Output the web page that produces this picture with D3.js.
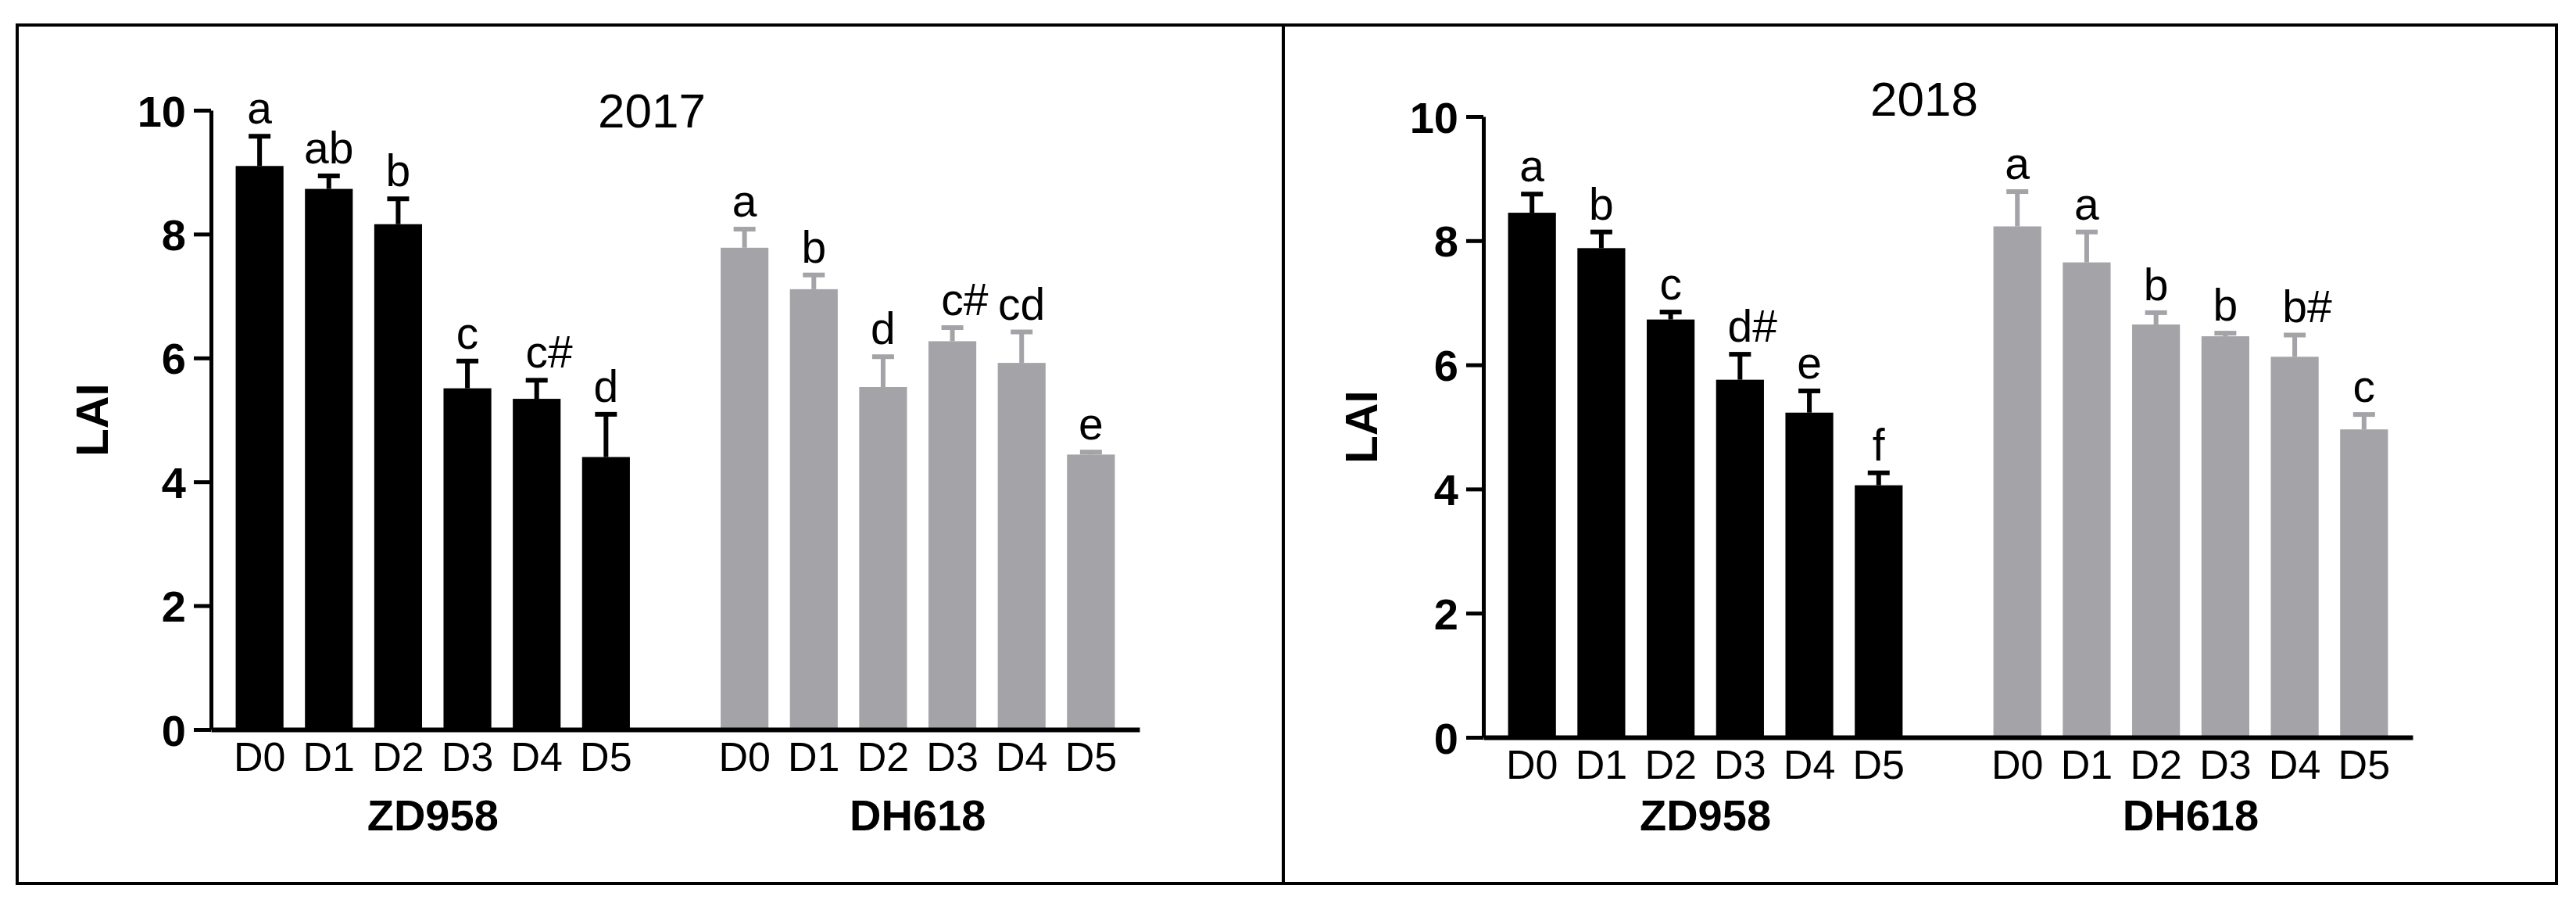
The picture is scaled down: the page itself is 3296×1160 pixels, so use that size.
<!DOCTYPE html>
<html>
<head>
<meta charset="utf-8">
<style>
body { margin: 0; background: white; }
svg { display: block; font-family: "Liberation Sans", Arial, sans-serif; }
</style>
</head>
<body>
<svg width="3296" height="1160"></svg>
<script src="https://cdn.jsdelivr.net/npm/d3@7"></script>
<script>

// categories
var doses = ["D0", "D1", "D2", "D3", "D4", "D5"];
var cultivars = ["ZD958", "DH618"];
var yTicks = [0, 2, 4, 6, 8, 10];

// 2017 values (LAI mean, error, letters)
var lai2017ZD = [9.10, 8.73, 8.16, 5.51, 5.34, 4.40];
var err2017ZD = [0.48, 0.21, 0.41, 0.44, 0.30, 0.69];
var sig2017ZD = ["a", "ab", "b", "c", "c#", "d"];
var lai2017DH = [7.78, 7.11, 5.53, 6.27, 5.92, 4.44];
var err2017DH = [0.30, 0.23, 0.49, 0.22, 0.50, 0.04];
var sig2017DH = ["a", "b", "d", "c#", "cd", "e"];

// 2018 values
var lai2018ZD = [8.45, 7.88, 6.73, 5.76, 5.23, 4.06];
var err2018ZD = [0.30, 0.26, 0.12, 0.41, 0.35, 0.20];
var sig2018ZD = ["a", "b", "c", "d#", "e", "f"];
var lai2018DH = [8.23, 7.65, 6.65, 6.46, 6.13, 4.96];
var err2018DH = [0.56, 0.49, 0.19, 0.05, 0.35, 0.24];
var sig2018DH = ["a", "a", "b", "b", "b#", "c"];

var colors = { ZD958: "#000000", DH618: "#a3a3a8" };

// panel layout
var panels = [
  { year: "2017", x0: 270, x1: 1458, yBase: 933, yTop: 141, titleX: 834, titleY: 163, laiX: 118,
    series: { ZD958: [lai2017ZD, err2017ZD, sig2017ZD], DH618: [lai2017DH, err2017DH, sig2017DH] } },
  { year: "2018", x0: 1898, x1: 3087, yBase: 943, yTop: 149, titleX: 2462, titleY: 148, laiX: 1742,
    series: { ZD958: [lai2018ZD, err2018ZD, sig2018ZD], DH618: [lai2018DH, err2018DH, sig2018DH] } }
];

var svg = d3.select("svg");

// outer frame + divider
svg.append("rect")
  .attr("x", 22).attr("y", 32)
  .attr("width", 3249).attr("height", 1098)
  .attr("fill", "none").attr("stroke", "black").attr("stroke-width", 4);
svg.append("line")
  .attr("x1", 1642).attr("x2", 1642).attr("y1", 32).attr("y2", 1130)
  .attr("stroke", "black").attr("stroke-width", 4);

// slots: 6 ZD958 doses, an empty gap, 6 DH618 doses
var slots = [];
cultivars.forEach(function(c, i) {
  if (i > 0) slots.push("gap");
  doses.forEach(function(d) { slots.push(c + "|" + d); });
});

panels.forEach(function(p) {
  var g = svg.append("g");

  var x = d3.scaleBand()
    .domain(slots)
    .range([p.x0, p.x1])
    .paddingInner(0.31)
    .paddingOuter(0.356);

  var y = d3.scaleLinear()
    .domain([0, 10])
    .range([p.yBase, p.yTop]);

  // bars
  var rows = [];
  cultivars.forEach(function(c) {
    var s = p.series[c];
    doses.forEach(function(d, i) {
      rows.push({ key: c + "|" + d, cult: c, v: s[0][i], e: s[1][i], sig: s[2][i] });
    });
  });

  g.selectAll(".bar")
    .data(rows)
    .enter().append("rect")
      .attr("class", "bar")
      .attr("x", function(d) { return x(d.key); })
      .attr("width", x.bandwidth())
      .attr("y", function(d) { return y(d.v); })
      .attr("height", function(d) { return y(0) - y(d.v); })
      .attr("fill", function(d) { return colors[d.cult]; });

  // error bars (upper only)
  var eb = g.selectAll(".err")
    .data(rows)
    .enter().append("g")
      .attr("class", "err")
      .attr("stroke", function(d) { return colors[d.cult]; })
      .attr("stroke-width", 6);
  eb.append("line")
    .attr("x1", function(d) { return x(d.key) + x.bandwidth() / 2; })
    .attr("x2", function(d) { return x(d.key) + x.bandwidth() / 2; })
    .attr("y1", function(d) { return y(d.v); })
    .attr("y2", function(d) { return y(d.v + d.e); });
  eb.append("line")
    .attr("x1", function(d) { return x(d.key) + x.bandwidth() / 2 - 14; })
    .attr("x2", function(d) { return x(d.key) + x.bandwidth() / 2 + 14; })
    .attr("y1", function(d) { return y(d.v + d.e); })
    .attr("y2", function(d) { return y(d.v + d.e); });

  // significance letters, letter part centred, '#' hanging right
  rows.forEach(function(d) {
    var cx = x(d.key) + x.bandwidth() / 2;
    var base = d.sig.replace("#", "");
    var ty = y(d.v + d.e) - 16;
    var t = g.append("text")
      .attr("x", cx).attr("y", ty)
      .attr("text-anchor", "middle")
      .attr("font-size", 57)
      .text(base);
    if (d.sig.indexOf("#") >= 0) {
      var w = t.node().getComputedTextLength();
      g.append("text")
        .attr("x", cx + w / 2).attr("y", ty)
        .attr("font-size", 57)
        .text("#");
    }
  });

  // y axis
  var yAxis = g.append("g")
    .attr("transform", "translate(" + p.x0 + ",0)")
    .call(d3.axisLeft(y).tickValues(yTicks).tickSize(22).tickSizeOuter(0).tickPadding(10));
  yAxis.select(".domain").attr("stroke-width", 5);
  yAxis.selectAll(".tick line").attr("stroke-width", 5);
  yAxis.selectAll(".tick text")
    .attr("font-size", 56).attr("font-weight", "bold")
    .attr("font-family", "Liberation Sans, Arial, sans-serif")
    .attr("dy", "0.36em");

  // x axis
  var xAxis = g.append("g")
    .attr("transform", "translate(0," + p.yBase + ")")
    .call(d3.axisBottom(x)
      .tickValues(slots.filter(function(s) { return s !== "gap"; }))
      .tickFormat(function(s) { return s.split("|")[1]; })
      .tickSize(0).tickSizeOuter(0).tickPadding(16));
  xAxis.select(".domain").attr("stroke-width", 6);
  xAxis.selectAll(".tick text")
    .attr("font-size", 52)
    .attr("font-family", "Liberation Sans, Arial, sans-serif")
    .attr("dy", "0.71em");

  // cultivar group labels
  cultivars.forEach(function(c) {
    var first = x(c + "|" + doses[0]);
    var last = x(c + "|" + doses[doses.length - 1]) + x.bandwidth();
    g.append("text")
      .attr("x", (first + last) / 2).attr("y", 1062)
      .attr("text-anchor", "middle")
      .attr("font-size", 56).attr("font-weight", "bold")
      .text(c);
  });

  // y label
  g.append("text")
    .attr("transform", "translate(" + (p.laiX + 20) + "," + ((p.yBase + p.yTop) / 2) + ") rotate(-90)")
    .attr("text-anchor", "middle")
    .attr("font-size", 58).attr("font-weight", "bold")
    .text("LAI");

  // year title
  g.append("text")
    .attr("x", p.titleX).attr("y", p.titleY)
    .attr("text-anchor", "middle")
    .attr("font-size", 62)
    .text(p.year);
});

</script>
</body>
</html>
